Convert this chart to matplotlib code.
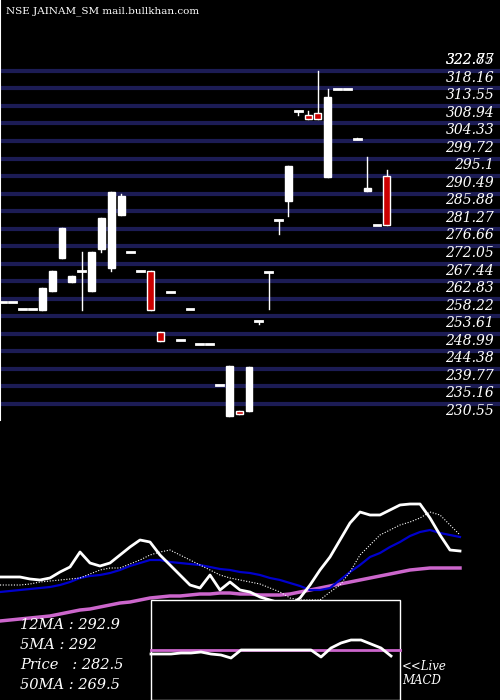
import numpy as np
import matplotlib.pyplot as plt
from matplotlib.patches import Rectangle

# ==============================================================
# DADOS
# ==============================================================
opens = [257.3, 257.3, 255.5, 255.5, 255.2, 260.2, 268.9, 262.5, 265.5, 260.2,
         271.3, 266.2, 280.2, 270.5, 265.5, 265.5, 249.5, 259.9, 247.5, 255.5,
         246.3, 246.3, 235.5, 227.3, 228.7, 228.7, 252.4, 265.2, 279.0, 284.0,
         307.6, 306.6, 307.1, 290.2, 313.3, 313.3, 300.5, 286.6, 277.6, 290.5]
closes = [257.3, 257.3, 255.5, 255.5, 261.1, 265.5, 276.8, 264.1, 265.5, 270.5,
          279.5, 286.3, 285.2, 270.5, 265.5, 255.2, 247.1, 259.9, 247.5, 255.5,
          246.3, 246.3, 235.5, 240.6, 228.0, 240.2, 252.4, 265.2, 279.0, 293.1,
          307.6, 305.5, 305.5, 311.2, 313.3, 313.3, 300.2, 287.3, 277.6, 277.6]
highs = [257.3, 257.3, 255.5, 255.5, 261.1, 265.5, 276.8, 264.1, 270.5, 270.5,
         279.5, 286.3, 285.8, 270.5, 265.5, 265.5, 249.5, 259.9, 247.5, 255.5,
         246.3, 246.3, 235.5, 240.6, 228.7, 240.2, 252.4, 265.2, 279.0, 293.1,
         307.6, 307.6, 318.2, 313.3, 313.3, 313.3, 300.5, 295.5, 277.6, 292.1]
lows = [257.3, 257.3, 255.5, 255.5, 255.2, 260.2, 268.9, 262.5, 255.2, 260.2,
        270.5, 265.4, 280.2, 270.5, 265.5, 255.2, 247.1, 259.9, 247.5, 255.5,
        246.3, 246.3, 235.5, 227.3, 228.0, 228.7, 251.7, 255.5, 275.2, 280.0,
        306.6, 305.5, 305.5, 290.2, 313.3, 313.3, 300.2, 286.6, 277.6, 277.6]

niveis = [230.55, 235.16, 239.77, 244.38, 248.99, 253.61, 258.22, 262.83, 267.44, 272.05,
          276.66, 281.27, 285.88, 290.49, 295.10, 299.72, 304.33, 308.94, 313.55, 318.16]
rotulos = ["230.55", "235.16", "239.77", "244.38", "248.99", "253.61", "258.22", "262.83",
           "267.44", "272.05", "276.66", "281.27", "285.88", "290.49", "295.1", "299.72",
           "304.33", "308.94", "313.55", "318.16"]

# medias moveis (nivel na escala do painel inferior, 0 = base)
ma5 = [123, 123, 123, 121, 120, 122, 128, 133, 148, 137, 134, 137, 145, 153, 160, 158,
       145, 135, 125, 115, 112, 125, 110, 118, 110, 108, 103, 100, 97, 95, 102, 115,
       130, 143, 160, 177, 188, 185, 185, 190, 195, 196, 196, 182, 165, 150, 149]
ma12 = [115, 115, 115, 116, 118, 119, 120, 121, 122, 126, 130, 132, 132, 136, 140, 145,
        148, 150, 145, 140, 135, 130, 125, 122, 120, 118, 116, 112, 108, 102, 100, 100,
        100, 108, 115, 128, 145, 155, 165, 170, 175, 178, 182, 188, 185, 175, 165]
ma20 = [108, 109, 110, 111, 112, 113, 115, 118, 122, 124, 125, 127, 130, 134, 137, 140,
        140, 138, 137, 136, 135, 133, 131, 130, 128, 127, 125, 122, 120, 117, 114, 110,
        110, 112, 120, 128, 135, 143, 147, 153, 158, 164, 168, 170, 167, 165, 163]
ma50 = [79, 80, 81, 82, 83, 84, 86, 88, 90, 91, 93, 95, 97, 98, 100, 102,
        103, 104, 104, 105, 106, 106, 107, 107, 106, 106, 105, 105, 105, 106, 108, 110,
        112, 114, 116, 118, 120, 122, 124, 126, 128, 130, 131, 132, 132, 132, 132]
macd = [46, 46, 46, 47, 47, 48, 46, 45, 42, 50, 50, 50, 50, 50, 50, 50,
        50, 43, 52, 57, 60, 60, 56, 52, 44]
macd_sinal = [50] * 25

textos_ma = ["12MA : 292.9", "5MA : 292", "Price   : 282.5", "50MA : 269.5"]

# ==============================================================
# FIGURA
# ==============================================================
fig = plt.figure(figsize=(5, 7), dpi=100, facecolor="black")
ax = fig.add_axes([0, 0, 1, 1])
ax.set_facecolor("black")
ax.set_xlim(-0.3, 50.5)
ax.set_ylim(152.72, 336.78)
ax.axis("off")

fonte = dict(color="white", ha="right", va="center", fontsize=10,
             family="DejaVu Serif", style="italic")
for v, r in zip(niveis, rotulos):
    ax.axhline(v, color="#1c1c55", lw=3, zorder=1)
    ax.text(49.9, v - 1.8, r, zorder=3, **fonte)
ax.text(49.9, 321.0, "322.77", **fonte)
ax.text(49.9, 321.0, "322.85", **fonte)

for i in range(len(opens)):
    o, c, h, l = opens[i], closes[i], highs[i], lows[i]
    ax.plot([i, i], [l, h], color="white", lw=1, zorder=4)
    if abs(c - o) < 0.4:
        ax.plot([i - 0.35, i + 0.35], [c, c], color="white", lw=2, zorder=5)
    else:
        cor = "white" if c > o else "#cc0000"
        ax.add_patch(Rectangle((i - 0.35, min(o, c)), 0.7, abs(c - o),
                               facecolor=cor, edgecolor="white", lw=1, zorder=5))

ax.plot([-0.25, -0.25], [226.3, 336.78], color="white", lw=1.5)
ax.text(0.3, 335, "NSE JAINAM_SM mail.bullkhan.com", color="white", fontsize=7.5,
        family="DejaVu Serif", va="top")

# painel inferior das medias
ax2 = fig.add_axes([0, 0, 1, 1])
ax2.patch.set_alpha(0)
ax2.axis("off")
ax2.set_xlim(0, 500)
ax2.set_ylim(0, 700)
xm = np.arange(len(ma5)) * 10
ax2.plot(xm, ma50, color="#cc66cc", lw=2.5)
ax2.plot(xm, ma20, color="#0000cc", lw=1.6)
ax2.plot(xm, ma12, color="white", lw=0.8, ls=(0, (1, 1.5)))
ax2.plot(xm, ma5, color="white", lw=2)

# caixa do MACD
ax2.add_patch(Rectangle((151, 0), 249, 100, facecolor="black", edgecolor="white", lw=1, zorder=6))
xmacd = 151 + np.arange(len(macd)) * 10
ax2.plot([151, 400], [macd_sinal[0], macd_sinal[-1]], color="#cc66cc", lw=2, zorder=7)
ax2.plot(xmacd, macd, color="white", lw=2, zorder=8)

for k, t in enumerate(textos_ma):
    ax2.text(20, 75 - 20 * k, t, color="white", fontsize=10.5, family="DejaVu Serif",
             style="italic", va="center", zorder=9)
ax2.text(402, 34, "<<Live", color="white", fontsize=8.5, family="DejaVu Serif", style="italic", va="center")
ax2.text(402, 19, "MACD", color="white", fontsize=8.5, family="DejaVu Serif", style="italic", va="center")

fig.savefig("out.png", dpi=100, facecolor="black")
